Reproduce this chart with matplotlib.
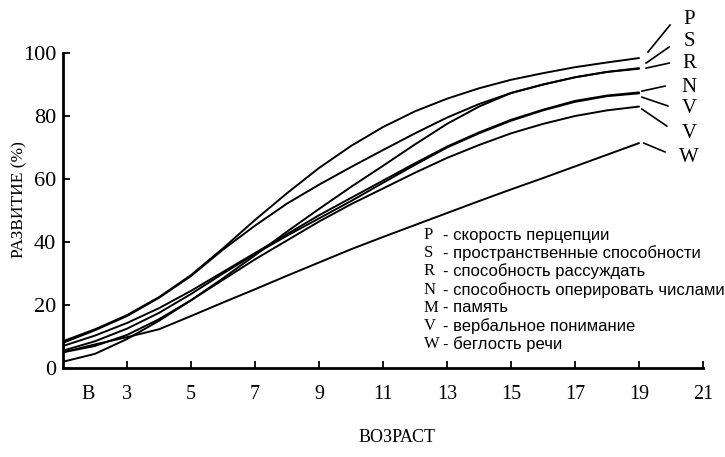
import matplotlib
matplotlib.use('Agg')
import matplotlib.pyplot as plt
import numpy as np

# ages 1..19 (B = birth sits at the left edge)
ages = list(range(1, 20))

P = [8.5, 12.3, 16.8, 22.5, 29.5, 38, 47, 55.5, 63.5, 70.5, 76.5, 81.5, 85.5, 88.8, 91.5, 93.6, 95.5, 97, 98.4]
S = [8.0, 12.0, 16.5, 22.3, 29.2, 37.6, 45.2, 52.2, 58.2, 63.8, 69.2, 74.5, 79.5, 83.8, 87.3, 90, 92.3, 94, 95.2]
R = [2.0, 4.5, 9.2, 15, 21.5, 28.5, 35.8, 43.3, 50.5, 57.5, 64.2, 71, 77.5, 83, 87.3, 90, 92.3, 94, 95.0]
N = [7.0, 10.3, 14.3, 19, 24.5, 30.5, 36.5, 42.5, 48.5, 54, 59.5, 65, 70.3, 74.8, 78.8, 82, 84.8, 86.5, 87.5]
V = [5.5, 8.5, 12.5, 17.5, 23.5, 30, 36.2, 42, 47.5, 53, 58.8, 64.5, 70, 74.5, 78.5, 81.8, 84.5, 86.3, 87.2]
M = [5.0, 7.0, 10.5, 15.5, 21.5, 28, 34.5, 40.5, 46.5, 52, 57, 62, 66.7, 70.8, 74.5, 77.5, 80, 81.8, 83]
W = [5.0, 7.5, 9.8, 12.3, 16.5, 20.8, 25, 29.3, 33.5, 37.7, 41.6, 45.4, 49.2, 53, 56.7, 60.3, 64, 67.7, 71.4]

series = [P, S, R, N, V, M, W]

end_labels = ['P', 'S', 'R', 'N', 'V', 'V', 'W']
label_y = [110.5, 103.5, 96.8, 89.2, 82.5, 74.6, 66.7]
lead_from = [(19.28, 100.3), (19.22, 96.8), (19.22, 95.2), (19.09, 87.9), (19.09, 86.0), (19.09, 82.2), (19.15, 71.4)]
lead_to = [(19.97, 108.9), (19.94, 101.9), (19.94, 96.8), (19.81, 89.5), (19.90, 83.2), (19.87, 76.8), (19.81, 68.6)]

legend_keys = ['P', 'S', 'R', 'N', 'M', 'V', 'W']
legend_text = ['скорость перцепции', 'пространственные способности', 'способность рассуждать',
               'способность оперировать числами', 'память', 'вербальное понимание', 'беглость речи']

xticks = [1.8, 3, 5, 7, 9, 11, 13, 15, 17, 19, 21]
xticklabels = ['B', '3', '5', '7', '9', '11', '13', '15', '17', '19', '21']
yticks = [0, 20, 40, 60, 80, 100]

serif = 'Liberation Serif'
sans = 'Liberation Sans'

fig = plt.figure(figsize=(7.25, 4.57), dpi=100)
ax = fig.add_axes([0.0869, 0.1947, 0.8828, 0.6893])

for s in series:
    ax.plot(ages, s, color='black', lw=1.4, solid_capstyle='round')

for lab, ly, a, b in zip(end_labels, label_y, lead_from, lead_to):
    ax.plot([a[0], b[0]], [a[1], b[1]], color='black', lw=1.2, clip_on=False)
    ax.text(20.56, ly, lab, fontsize=15, family=serif, ha='center', va='center', clip_on=False)

# legend block inside the plot
for i, (k, t) in enumerate(zip(legend_keys, legend_text)):
    py = 235 + i * 18.2
    yd = (368 - py) / 3.15
    ax.text(12.27, yd, k, fontsize=12, family=serif, ha='left', va='center')
    ax.text(12.86, yd, '- ' + t, fontsize=12, family=sans, ha='left', va='center')

ax.set_xlim(1, 21)
ax.set_ylim(0, 100)
ax.spines['top'].set_visible(False)
ax.spines['right'].set_visible(False)
ax.spines['left'].set_linewidth(2)
ax.spines['bottom'].set_linewidth(2)

ax.set_xticks(xticks)
ax.set_xticklabels(xticklabels, family=serif, fontsize=14.5)
ax.set_yticks(yticks)
ax.set_yticklabels([str(v) for v in yticks], family=serif, fontsize=16)
ax.tick_params(axis='x', direction='in', length=5, width=1.3, pad=12)
ax.tick_params(axis='y', direction='in', length=5, width=1.3, pad=5)
ax.xaxis.get_major_ticks()[0].tick1line.set_visible(False)

fig.text(19 / 725, 1 - 200 / 457, 'РАЗВИТИЕ (%)', rotation=90, family=serif, fontsize=12.5,
         ha='center', va='center')
fig.text(397 / 725, 1 - 437 / 457, 'ВОЗРАСТ', family=serif, fontsize=13, ha='center', va='center')

fig.savefig('out.png', dpi=100)
